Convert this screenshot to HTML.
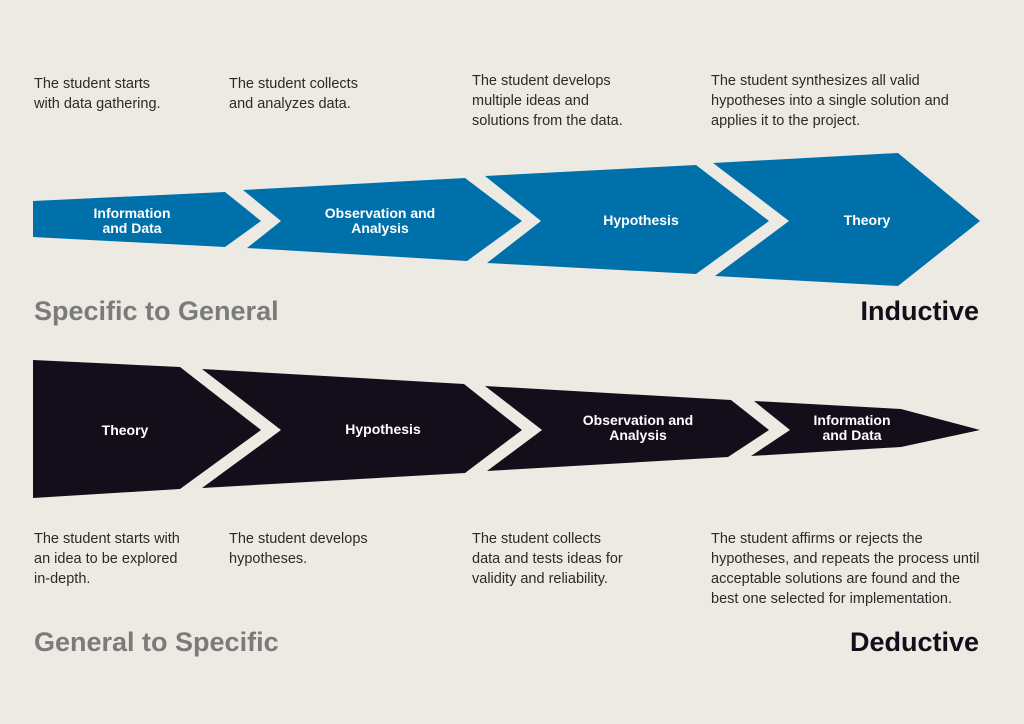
<!DOCTYPE html>
<html><head><meta charset="utf-8"><style>
html,body{margin:0;padding:0;background:#eceae2;}
svg{display:block;}
.b{font-family:"Liberation Sans",sans-serif;font-size:14.5px;fill:#2a2a2a;}
.l{font-family:"Liberation Sans",sans-serif;font-size:14px;font-weight:bold;fill:#fff;text-anchor:middle;}
.h{font-family:"Liberation Sans",sans-serif;font-size:27px;font-weight:bold;}
</style></head><body>
<svg width="1024" height="724" viewBox="0 0 1024 724" xmlns="http://www.w3.org/2000/svg">
<rect width="1024" height="724" fill="#eceae2"/>
<g class="b">
<text x="34" y="88">The student starts</text><text x="34" y="108">with data gathering.</text>
<text x="229" y="88">The student collects</text><text x="229" y="108">and analyzes data.</text>
<text x="472" y="85">The student develops</text><text x="472" y="105">multiple ideas and</text><text x="472" y="125">solutions from the data.</text>
<text x="711" y="85">The student synthesizes all valid</text><text x="711" y="105">hypotheses into a single solution and</text><text x="711" y="125">applies it to the project.</text>
</g>
<g fill="#0070ab">
<polygon points="33,201 225,192 261,221 225,247 33,237"/>
<polygon points="243,190 465,178 522,221 467,261 247,248 281,221"/>
<polygon points="485,176 696,165 769,221 696,274 487,263 541,221"/>
<polygon points="713,163 898,153 980,221 898,286 715,276 789,221"/>
</g>
<g class="l">
<text x="132" y="218">Information</text><text x="132" y="233">and Data</text>
<text x="380" y="218">Observation and</text><text x="380" y="233">Analysis</text>
<text x="641" y="225">Hypothesis</text>
<text x="867" y="225">Theory</text>
</g>
<text class="h" x="34" y="320" fill="#7b7b7b">Specific to General</text>
<text class="h" x="979" y="320" fill="#140d1a" text-anchor="end">Inductive</text>
<g fill="#140d1a">
<polygon points="33,360 180,367 261,430 180,489 33,498"/>
<polygon points="202,369 464,384 522,430 465,473 202,488 281,430"/>
<polygon points="485,386 731,400 769,430 728,457 487,471 542,430"/>
<polygon points="754,401 901,409 980,430 901,447 751,456 790,430"/>
</g>
<g class="l">
<text x="125" y="435">Theory</text>
<text x="383" y="434">Hypothesis</text>
<text x="638" y="425">Observation and</text><text x="638" y="440">Analysis</text>
<text x="852" y="425">Information</text><text x="852" y="440">and Data</text>
</g>
<g class="b">
<text x="34" y="543">The student starts with</text><text x="34" y="563">an idea to be explored</text><text x="34" y="583">in-depth.</text>
<text x="229" y="543">The student develops</text><text x="229" y="563">hypotheses.</text>
<text x="472" y="543">The student collects</text><text x="472" y="563">data and tests ideas for</text><text x="472" y="583">validity and reliability.</text>
<text x="711" y="543">The student affirms or rejects the</text><text x="711" y="563">hypotheses, and repeats the process until</text><text x="711" y="583">acceptable solutions are found and the</text><text x="711" y="603">best one selected for implementation.</text>
</g>
<text class="h" x="34" y="651" fill="#7b7b7b">General to Specific</text>
<text class="h" x="979" y="651" fill="#140d1a" text-anchor="end">Deductive</text>
</svg>
</body></html>
